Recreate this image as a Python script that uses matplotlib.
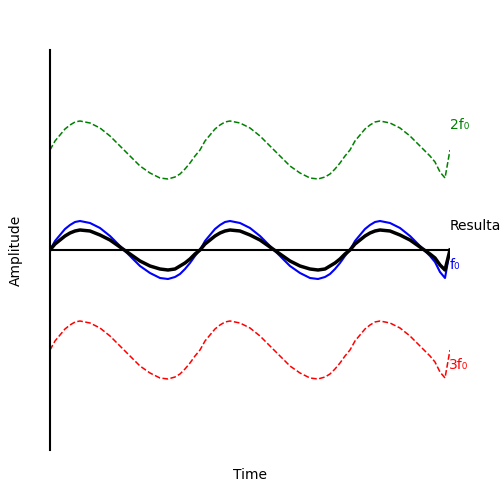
import matplotlib
matplotlib.use("Agg")
import matplotlib.pyplot as plt

x = [0,5,10,15,20,25,30,40,50,60,70,80,90,100,110,118,125,130,135,140,145,
     150,155,160,165,170,175,180,190,200,210,220,230,240,250,260,268,275,280,285,290,295,
     300,305,310,315,320,325,330,340,350,360,370,380,385,390,395,400]
f0 = [0,9,15,21,25,28,29,27,22,14,4,-6,-16,-23,-28,-29,-27,-24,-19,-13,-6,
      0,9,15,21,25,28,29,27,22,14,4,-6,-16,-23,-28,-29,-27,-24,-19,-13,-6,
      0,9,15,21,25,28,29,27,22,14,4,-6,-12,-22,-28,0]
resultant = [0,6,10,14,17,19,20,19,15,10,3,-4,-11,-16,-19,-20,-19,-16,-13,-9,-4,
             0,6,10,14,17,19,20,19,15,10,3,-4,-11,-16,-19,-20,-19,-16,-13,-9,-4,
             0,6,10,14,17,19,20,19,15,10,3,-4,-8,-15,-20,0]
f2 = [100,109,115,121,125,128,129,127,122,114,104,94,84,77,72,71,73,76,81,87,94,
      100,109,115,121,125,128,129,127,122,114,104,94,84,77,72,71,73,76,81,87,94,
      100,109,115,121,125,128,129,127,122,114,104,94,88,78,72,100]
f3 = [-100,-91,-85,-79,-75,-72,-71,-73,-78,-86,-96,-106,-116,-123,-128,-129,-127,-124,-119,-113,-106,
      -100,-91,-85,-79,-75,-72,-71,-73,-78,-86,-96,-106,-116,-123,-128,-129,-127,-124,-119,-113,-106,
      -100,-91,-85,-79,-75,-72,-71,-73,-78,-86,-96,-106,-112,-122,-128,-100]

fig = plt.figure(figsize=(5, 5), dpi=100)
ax = fig.add_axes([0.1, 0.1, 0.8, 0.8])
ax.plot(x, f2, color="green", lw=1.1, ls="--")
ax.plot(x, f3, color="red", lw=1.1, ls="--")
ax.plot(x, f0, color="blue", lw=1.5)
ax.plot(x, resultant, color="black", lw=2.5)
ax.plot([0, 400], [0, 0], color="black", lw=1.5)
ax.set_xlim(0, 400)
ax.set_ylim(-200, 200)
ax.set_xticks([]); ax.set_yticks([])
for s in ["top", "right", "bottom"]:
    ax.spines[s].set_visible(False)
ax.spines["left"].set_linewidth(1.5)
ax.text(400, 125, "2f₀", color="green", fontsize=10, va="center", ha="left")
ax.text(400, 24, "Resultant", color="black", fontsize=10, va="center", ha="left")
ax.text(400, -15, "f₀", color="blue", fontsize=10, va="center", ha="left")
ax.text(399, -115, "3f₀", color="red", fontsize=10, va="center", ha="left")
fig.text(0.5, 0.05, "Time", ha="center", va="center", fontsize=10)
fig.text(0.032, 0.5, "Amplitude", ha="center", va="center", rotation=90, fontsize=10)
fig.savefig("out.png", dpi=100)
